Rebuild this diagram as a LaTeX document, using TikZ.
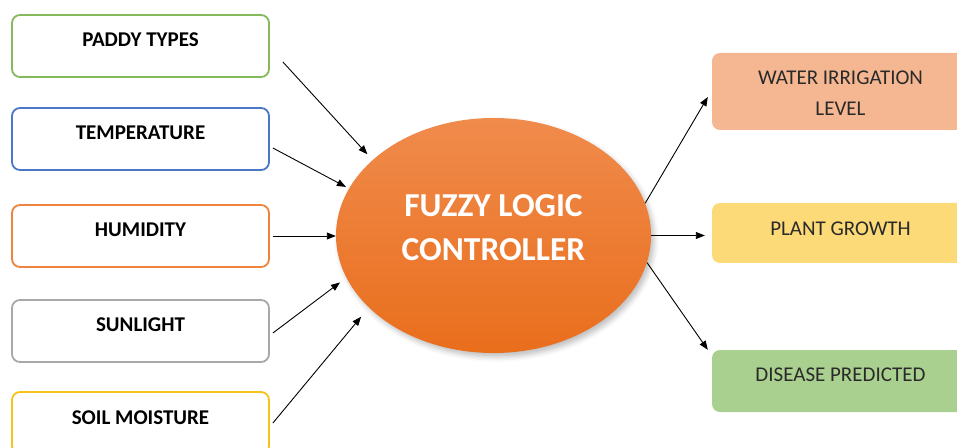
\documentclass[tikz,border=0pt]{standalone}
\usepackage{fontspec}
\setmainfont{Carlito}
\usepackage{tikz}
\usetikzlibrary{arrows.meta,positioning,shapes.geometric,shadows.blur}
\definecolor{paddygreen}{HTML}{86B95C}
\definecolor{tempblue}{HTML}{4A78C6}
\definecolor{humorange}{HTML}{EE843E}
\definecolor{sungray}{HTML}{A8A8A8}
\definecolor{soilyellow}{HTML}{F7C21B}
\definecolor{waterfill}{HTML}{F5B791}
\definecolor{plantfill}{HTML}{FDDA78}
\definecolor{diseasefill}{HTML}{AAD08F}
\definecolor{flctop}{HTML}{F08B4C}
\definecolor{flcbot}{HTML}{E96E1C}
\definecolor{outtext}{HTML}{2A2A2A}
\tikzset{
  inbox/.style={draw=#1, line width=1.8pt, rounded corners=8pt, fill=white,
    minimum width=257pt, minimum height=62pt, text height=15pt, text depth=13pt,
    font=\bfseries\fontsize{21}{25}\selectfont},
  outbox/.style={fill=#1, rounded corners=8pt, minimum width=257pt,
    minimum height=62pt, text height=15pt, text depth=15pt, text=outtext,
    font=\fontsize{21}{31}\selectfont, align=center},
  arr/.style={-{Triangle[length=9pt,width=7pt]}, line width=0.9pt},
}
\begin{document}
\begin{tikzpicture}[x=1pt,y=1pt]
  \useasboundingbox (0,0) rectangle (957,447);
  % inputs
  \node[inbox=paddygreen] (paddy) at (140.5,401) {PADDY TYPES};
  \node[inbox=tempblue]   (temp)  at (140.5,308) {TEMPERATURE};
  \node[inbox=humorange]  (hum)   at (140.5,211) {HUMIDITY};
  \node[inbox=sungray]    (sun)   at (140.5,116) {SUNLIGHT};
  \node[inbox=soilyellow] (soil)  at (140.5,24)  {SOIL MOISTURE};
  % controller
  \node[ellipse, minimum width=315pt, minimum height=235pt, inner sep=0pt,
    top color=flctop, bottom color=flcbot, draw=none,
    blur shadow={shadow xshift=3pt, shadow yshift=-4pt, shadow blur radius=5pt, shadow opacity=25},
    text=white, align=center, text height=50pt, text depth=0pt,
    font=\bfseries\fontsize{33.5}{44}\selectfont] (flc) at (493.5,211.5) {FUZZY LOGIC\\CONTROLLER};
  % outputs
  \node[outbox=waterfill, minimum height=77pt, text height=48pt, text depth=0pt] (water) at (840.5,355.5) {WATER IRRIGATION\\LEVEL};
  \node[outbox=plantfill, minimum height=60pt, text height=17pt, text depth=11pt] (plant) at (840.5,214) {PLANT GROWTH};
  \node[outbox=diseasefill] (disease) at (840.5,66) {DISEASE PREDICTED};
  % arrows in
  \draw[arr, shorten >=7.7pt] ([shift={(13,-16)}]paddy.east) -- (flc.148.6);
  \draw[arr, shorten >=3.4pt] ([shift={(3,-9)}]temp.east) -- (flc.162.6);
  \draw[arr] ([xshift=3pt]hum.east) -- (hum.east -| flc.west);
  \draw[arr, shorten >=7.9pt] ([shift={(3,-2)}]sun.east) -- (flc.196.9);
  \draw[arr, shorten >=12pt] ([xshift=3pt]soil.east) -- (flc.210.3);
  % arrows out
  \draw[arr] (flc.12) -- ([shift={(-4,-5.5)}]water.west);
  \draw[arr] (flc.east) -- ([xshift=-7pt]flc.east -| plant.west);
  \draw[arr] (flc.-10.9) -- ([xshift=-4pt]disease.north west);
\end{tikzpicture}
\end{document}
